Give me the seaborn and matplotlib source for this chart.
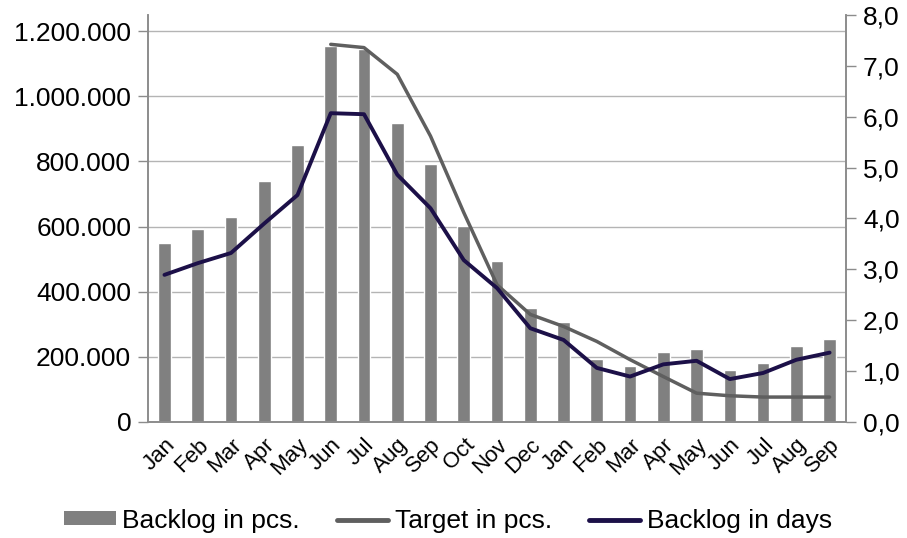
import numpy as np
import pandas as pd
import matplotlib
matplotlib.use('Agg')
import matplotlib.pyplot as plt
import matplotlib.ticker as mticker
from matplotlib.patches import Patch
from matplotlib.lines import Line2D
import seaborn as sns

# Daten
months = ['Jan', 'Feb', 'Mar', 'Apr', 'May', 'Jun', 'Jul', 'Aug', 'Sep', 'Oct', 'Nov', 'Dec',
          'Jan', 'Feb', 'Mar', 'Apr', 'May', 'Jun', 'Jul', 'Aug', 'Sep']
backlog_pcs = [550000, 593000, 629000, 739000, 852000, 1155000, 1145000, 919000, 791000,
               601000, 495000, 350000, 308000, 194000, 170000, 216000, 225000, 158000,
               180000, 232000, 255000]
target_pcs = [np.nan, np.nan, np.nan, np.nan, np.nan, 1160000, 1150000, 1068000, 878000,
              643000, 421000, 330000, 293000, 247000, 191000, 139000, 88000, 80000,
              76000, 76000, 76000]
backlog_days = [2.89, 3.12, 3.32, 3.90, 4.46, 6.07, 6.05, 4.86, 4.20, 3.18, 2.63, 1.84,
                1.61, 1.06, 0.89, 1.13, 1.20, 0.84, 0.96, 1.22, 1.36]

df = pd.DataFrame({'idx': range(len(months)), 'month': months,
                   'pcs': backlog_pcs, 'target': target_pcs, 'days': backlog_days})

sns.set_style("white")
plt.rcParams['font.family'] = ['Liberation Sans', 'DejaVu Sans']

bar_color = '#808080'
target_color = '#5f5f5f'
days_color = '#1c1048'
axis_color = '#8c8c8c'
fs = 19

fig, ax = plt.subplots(figsize=(9.07, 5.38), dpi=100)
fig.subplots_adjust(left=0.163, right=0.933, bottom=0.216, top=0.972)

sns.barplot(data=df, x='idx', y='pcs', color=bar_color, width=0.38, ax=ax,
            saturation=1, zorder=2)
tgt = df.dropna(subset=['target'])
sns.lineplot(x=tgt['idx'].values, y=tgt['target'].values, color=target_color,
             linewidth=2.5, ax=ax, zorder=3)

ax.set_xlim(-0.5, len(months) - 0.5)
ax.set_ylim(0, 1250000)
ax.set_yticks(np.arange(0, 1200001, 200000))
ax.yaxis.set_major_formatter(mticker.FuncFormatter(lambda v, p: f"{v:,.0f}".replace(",", ".")))
ax.yaxis.grid(True, color='#b4b4b4', linewidth=1.0, zorder=0)
ax.set_axisbelow(True)
ax.set_xlabel('')
ax.set_ylabel('')

ax.set_xticks(df['idx'])
ax.set_xticklabels(months, rotation=45, ha='right', rotation_mode='anchor', fontsize=16,
                   color='black')
ax.set_xticks(np.arange(-0.5, len(months), 1), minor=True)
ax.tick_params(axis='x', which='major', length=0, pad=9)
ax.tick_params(axis='x', which='minor', length=6, color=axis_color, width=1)
ax.tick_params(axis='y', labelsize=fs, length=7, color=axis_color, width=1, direction='out',
               labelcolor='black', pad=5)

ax.spines['top'].set_visible(False)
for s in ['left', 'bottom', 'right']:
    ax.spines[s].set_color(axis_color)
    ax.spines[s].set_linewidth(1.2)

ax2 = ax.twinx()
sns.lineplot(x=df['idx'].values, y=df['days'].values, color=days_color, linewidth=2.8,
             ax=ax2, zorder=4)
ax2.set_ylim(0, 8)
ax2.set_yticks(np.arange(0, 8.01, 1))
ax2.yaxis.set_major_formatter(mticker.FuncFormatter(lambda v, p: f"{v:.1f}".replace(".", ",")))
ax2.tick_params(axis='y', labelsize=fs, length=7, color=axis_color, width=1, direction='out',
                labelcolor='black', pad=5)
ax2.spines['top'].set_visible(False)
for s in ['left', 'bottom', 'right']:
    ax2.spines[s].set_color(axis_color)
    ax2.spines[s].set_linewidth(1.2)
ax2.set_ylabel('')
ax2.grid(False)

handles = [Patch(facecolor=bar_color, edgecolor='none'),
           Line2D([0], [0], color=target_color, linewidth=3.5),
           Line2D([0], [0], color=days_color, linewidth=3.5)]
labels = ['Backlog in pcs.', 'Target in pcs.', 'Backlog in days']
leg = fig.legend(handles, labels, loc='center', bbox_to_anchor=(0.494, 0.032), ncol=3,
                 frameon=False, fontsize=fs, handlelength=1.95, handleheight=0.45,
                 handletextpad=0.25, columnspacing=1.4, borderpad=0, borderaxespad=0)
for t in leg.get_texts():
    t.set_color('black')

plt.savefig('out.png', dpi=100)
plt.close()
